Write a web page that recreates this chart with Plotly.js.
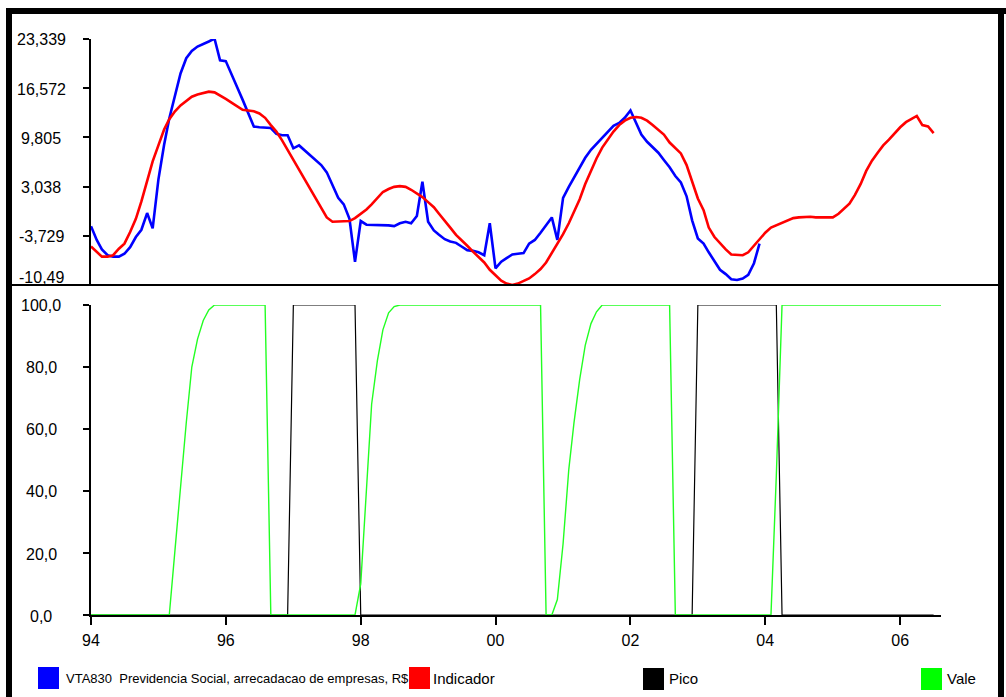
<!DOCTYPE html>
<html>
<head>
<meta charset="utf-8">
<script src="https://cdn.plot.ly/plotly-3.0.1.min.js"></script>
<style>html,body{margin:0;padding:0;background:#fff;}#chart{width:1006px;height:697px;}</style>
</head>
<body>
<div id="chart"></div>
<script>
// ---- data (monthly, starting Jan 1994) ----
const startYear = 1994;
const blueName = "VTA830  Previdencia Social, arrecadacao de empresas, R$";
const redName = "Indicador";
const picoName = "Pico";
const valeName = "Vale";

const blueValues = [-2.4,-4.3,-5.6,-6.4,-6.6,-6.6,-6.2,-5.3,-3.9,-2.9,
  -0.6,-2.7,4.0,8.8,12.4,15.7,18.6,20.7,21.7,22.3,
  22.6,23.0,23.4,20.4,20.3,18.6,16.8,15.0,13.1,11.3,
  11.2,11.1,11.1,10.3,10.1,10.1,8.3,8.7,8.1,7.4,
  6.8,6.0,5.0,3.3,1.5,0.6,-1.4,-7.3,-1.7,-2.2,
  -2.2,-2.2,-2.2,-2.3,-2.4,-2.0,-1.8,-2.0,-1.0,3.7,
  -1.8,-3.0,-3.6,-4.2,-4.5,-4.7,-5.2,-5.7,-5.8,-6.0,
  -6.4,-2.0,-8.2,-7.3,-6.8,-6.3,-6.2,-6.1,-4.8,-4.3,
  -3.3,-2.3,-1.2,-4.3,1.5,3.0,4.2,5.7,7.0,8.1,
  8.9,9.8,10.6,11.4,11.8,12.5,13.5,11.8,10.2,9.2,
  8.5,7.7,6.7,5.7,4.5,3.6,1.7,-1.6,-4.1,-4.8,
  -6.0,-7.2,-8.4,-9.0,-9.7,-9.8,-9.6,-9.1,-7.5,-4.8];

const redValues = [-5.2,-6.0,-6.6,-6.6,-6.4,-5.5,-4.8,-3.2,-1.4,1.0,
  3.8,6.5,8.7,10.9,12.3,13.4,14.2,14.8,15.4,15.7,
  15.9,16.1,16.0,15.6,15.1,14.6,14.1,13.6,13.5,13.4,
  13.1,12.5,11.5,10.6,9.4,8.1,6.8,5.5,4.1,2.8,
  1.6,0.1,-1.2,-1.8,-1.8,-1.8,-1.7,-1.3,-0.7,-0.1,
  0.6,1.4,2.3,2.7,3.0,3.1,3.0,2.6,2.1,1.6,
  0.9,0.2,-0.7,-1.6,-2.6,-3.6,-4.4,-5.1,-5.9,-6.7,
  -7.4,-8.4,-9.2,-9.9,-10.3,-10.5,-10.3,-10.0,-9.6,-9.0,
  -8.3,-7.4,-6.1,-4.9,-3.5,-2.0,-0.5,1.3,3.4,5.2,
  6.9,8.4,9.6,10.6,11.5,12.1,12.5,12.6,12.5,12.1,
  11.5,10.9,10.2,9.1,8.3,7.6,6.0,3.6,1.4,-0.2,
  -2.6,-3.9,-4.8,-5.6,-6.3,-6.4,-6.4,-6.0,-5.1,-4.1,
  -3.3,-2.6,-2.3,-2.0,-1.6,-1.3,-1.2,-1.1,-1.1,-1.2,
  -1.2,-1.3,-1.2,-0.7,0.0,0.7,1.9,3.4,5.2,6.6,
  7.7,8.7,9.5,10.4,11.2,11.9,12.3,12.75,11.5,11.3,
  10.4];

const picoValues = [0,0,0,0,0,0,0,0,0,0,0,0,0,0,0,0,0,0,0,0,
  0,0,0,0,0,0,0,0,0,0,0,0,0,0,0,0,100,100,100,100,
  100,100,100,100,100,100,100,100,0,0,0,0,0,0,0,0,0,0,0,0,
  0,0,0,0,0,0,0,0,0,0,0,0,0,0,0,0,0,0,0,0,
  0,0,0,0,0,0,0,0,0,0,0,0,0,0,0,0,0,0,0,0,
  0,0,0,0,0,0,0,0,100,100,100,100,100,100,100,100,100,100,100,100,
  100,100,100,0,0,0,0,0,0,0,0,0,0,0,0,0,0,0,0,0,
  0,0,0,0,0,0,0,0,0,0,0];

const valeValues = [0,0,0,0,0,0,0,0,0,0,0,0,0,0,0,21,42,62,80,89,
  95,98.4,100,100,100,100,100,100,100,100,100,100,0,0,0,0,0,0,0,0,
  0,0,0,0,0,0,0,0,10,39,68,82,92,97.5,99.5,100,100,100,100,100,
  100,100,100,100,100,100,100,100,100,100,100,100,100,100,100,100,100,100,100,100,
  100,0,0,5,23,47,62,76,87,94,97.8,100,100,100,100,100,100,100,100,100,
  100,100,100,100,0,0,0,0,0,0,0,0,0,0,0,0,0,0,0,0,0,0,45,100,
  100,100,100,100,100,100,100,100,100,100,100,100,100,100,100,100,100,100,100,100,
  100,100,100,100,100,100,100,100,100,100,100];

const topTickVals = [-10.496, -3.729, 3.038, 9.805, 16.572, 23.339];
const topTickText = ["-10,49", "-3,729", "3,038", "9,805", "16,572", "23,339"];
const botTickVals = [0, 20, 40, 60, 80, 100];
const botTickText = ["0,0", "20,0", "40,0", "60,0", "80,0", "100,0"];
const xTickVals = ["1994-01-01","1996-01-01","1998-01-01","2000-01-01","2002-01-01","2004-01-01","2006-01-01"];
const xTickText = ["94","96","98","00","02","04","06"];

// ---- helpers ----
function monthDates(n) {
  const out = [];
  for (let i = 0; i < n; i++) {
    const y = startYear + Math.floor(i / 12);
    const m = (i % 12) + 1;
    out.push(y + "-" + String(m).padStart(2, "0") + "-01");
  }
  return out;
}

const W = 1006, H = 697;
const px = v => v / W;
const py = v => 1 - v / H;
const FONT = "'Liberation Sans', Arial, sans-serif";

const traces = [
  {x: monthDates(blueValues.length), y: blueValues, name: blueName, type: "scatter", mode: "lines",
   xaxis: "x", yaxis: "y2", line: {color: "#0000ff", width: 2.6}},
  {x: monthDates(redValues.length), y: redValues, name: redName, type: "scatter", mode: "lines",
   xaxis: "x", yaxis: "y2", line: {color: "#ff0000", width: 2.6}},
  {x: monthDates(picoValues.length), y: picoValues, name: picoName, type: "scatter", mode: "lines",
   xaxis: "x", yaxis: "y", line: {color: "#000000", width: 1.2}},
  {x: monthDates(valeValues.length), y: valeValues, name: valeName, type: "scatter", mode: "lines",
   xaxis: "x", yaxis: "y", line: {color: "#22ff22", width: 1.4}}
];

const annotations = [];
topTickVals.forEach((v, i) => {
  annotations.push({xref: "paper", yref: "y2", x: px(41), y: v, text: topTickText[i], showarrow: false,
    xanchor: "center", yanchor: "middle", yshift: (i === 0 ? 8 : -1), font: {family: FONT, size: 16, color: "#000"}});
});
botTickVals.forEach((v, i) => {
  annotations.push({xref: "paper", yref: "y", x: px(41), y: v, text: botTickText[i], showarrow: false,
    xanchor: "center", yanchor: "middle", yshift: -1, font: {family: FONT, size: 16, color: "#000"}});
});

function legendText(x, cy, txt, size) {
  annotations.push({xref: "paper", yref: "paper", x: px(x), y: py(cy), text: txt, showarrow: false,
    xanchor: "left", yanchor: "middle", font: {family: FONT, size: size, color: "#000"}});
}
legendText(64, 678, blueName, 13);
legendText(431, 678, redName, 15);
legendText(667, 678, picoName, 15);
legendText(945, 678, valeName, 15);

function legendSquare(x0, y0, color) {
  return {type: "rect", xref: "paper", yref: "paper", x0: px(x0), x1: px(x0 + 21), y0: py(y0 + 22), y1: py(y0),
    fillcolor: color, line: {width: 0}, layer: "above"};
}

const shapes = [
  {type: "rect", xref: "paper", yref: "paper", x0: px(6), x1: px(1006), y0: py(14), y1: py(8), fillcolor: "#000", line: {width: 0}},
  {type: "rect", xref: "paper", yref: "paper", x0: px(6), x1: px(12), y0: py(697), y1: py(8), fillcolor: "#000", line: {width: 0}},
  {type: "rect", xref: "paper", yref: "paper", x0: px(998), x1: px(1004), y0: py(697), y1: py(8), fillcolor: "#000", line: {width: 0}},
  {type: "line", xref: "paper", yref: "paper", x0: px(12), x1: px(998), y0: py(285), y1: py(285), line: {color: "#000", width: 2}},
  legendSquare(38, 667, "#0000ff"),
  legendSquare(409, 667, "#ff0000"),
  legendSquare(643, 668, "#000000"),
  legendSquare(921, 668, "#00ff00")
];

const axisCommon = {showgrid: false, zeroline: false, showline: true, linecolor: "#000", linewidth: 2,
  ticks: "outside", tickcolor: "#000", tickwidth: 2, mirror: false, fixedrange: true};

const layout = {
  width: W, height: H,
  margin: {l: 0, r: 0, t: 0, b: 0, pad: 0},
  paper_bgcolor: "#fff", plot_bgcolor: "#fff",
  showlegend: false,
  xaxis: Object.assign({}, axisCommon, {
    type: "date", domain: [px(91), px(941)], range: ["1994-01-01", "2006-08-10"], anchor: "y",
    ticklen: 8, tickmode: "array", tickvals: xTickVals, ticktext: xTickText, ticklabelstandoff: 2,
    tickfont: {family: FONT, size: 16, color: "#000"}
  }),
  yaxis: Object.assign({}, axisCommon, {
    domain: [py(615), py(305)], range: [0, 100], anchor: "x", ticklen: 6,
    tickmode: "array", tickvals: botTickVals, showticklabels: false
  }),
  yaxis2: Object.assign({}, axisCommon, {
    domain: [py(285), py(39)], range: [-10.496, 23.339], anchor: "x", ticklen: 6,
    tickmode: "array", tickvals: topTickVals, showticklabels: false
  }),
  annotations: annotations,
  shapes: shapes
};

Plotly.newPlot("chart", traces, layout, {displayModeBar: false, staticPlot: true});
</script>
</body>
</html>
